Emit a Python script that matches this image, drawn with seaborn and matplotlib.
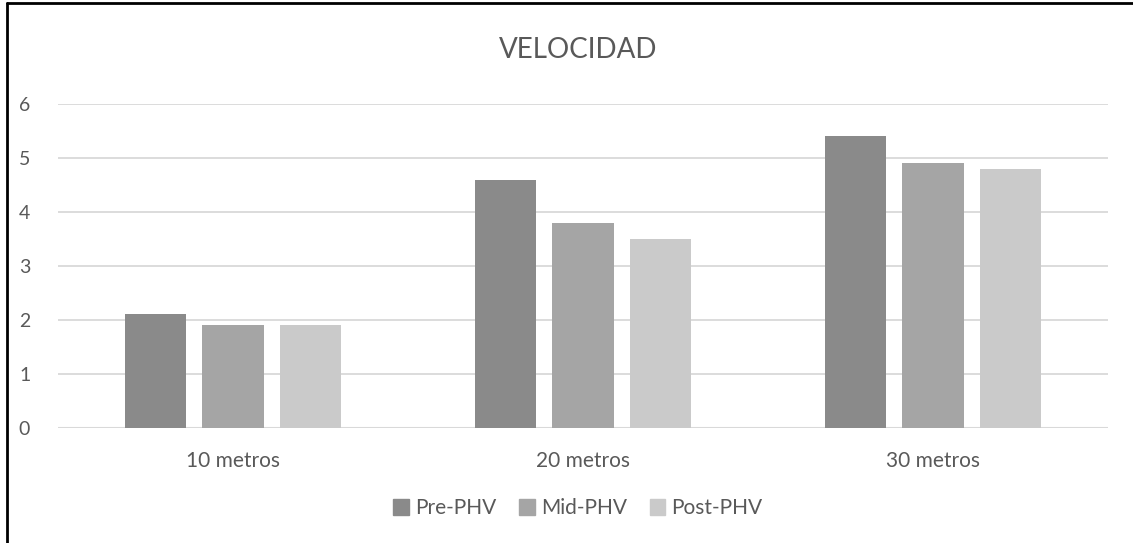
import matplotlib
matplotlib.use("Agg")
import matplotlib.pyplot as plt
import matplotlib.lines as mlines
import matplotlib.patches as mpatches
import pandas as pd
import seaborn as sns

# Data
distancias = ["10 metros", "20 metros", "30 metros"]
grupos = ["Pre-PHV", "Mid-PHV", "Post-PHV"]
pre_phv = [2.1, 4.6, 5.4]
mid_phv = [1.9, 3.8, 4.9]
post_phv = [1.9, 3.5, 4.8]
colores = ["#8a8a8a", "#a5a5a5", "#cacaca"]
y_ticks = [0, 1, 2, 3, 4, 5, 6]

df = pd.DataFrame({
    "Distancia": distancias * 3,
    "Velocidad": pre_phv + mid_phv + post_phv,
    "Grupo": [g for g in grupos for _ in distancias],
})

sns.set_style("white")
plt.rcParams["font.family"] = ["Lato", "DejaVu Sans"]
texto = "#595959"

fig = plt.figure(figsize=(11.33, 5.43), dpi=100)
ax = fig.add_axes([0.0512, 0.2123, 0.9268, 0.5962])

sns.barplot(data=df, x="Distancia", y="Velocidad", hue="Grupo",
            palette=colores, width=0.664, gap=0.21, linewidth=0,
            errorbar=None, ax=ax, zorder=3)

ax.set_ylim(0, 6)
ax.set_yticks(y_ticks)
ax.yaxis.grid(True, color="#d9d9d9", linewidth=1.3, zorder=0)
ax.set_axisbelow(True)
for s in ax.spines.values():
    s.set_visible(False)
ax.axhline(0, color="#d9d9d9", linewidth=1.5, zorder=2)
ax.tick_params(axis="both", length=0, colors=texto)
ax.tick_params(axis="y", pad=20, labelsize=14)
ax.tick_params(axis="x", pad=17, labelsize=15)
ax.set_xlabel("")
ax.set_ylabel("")

ax.get_legend().remove()
handles = [mpatches.Patch(color=c, label=g) for c, g in zip(colores, grupos)]
fig.legend(handles=handles, loc="center", bbox_to_anchor=(0.51, 0.064),
           ncol=3, frameon=False, fontsize=15, labelcolor=texto,
           handlelength=0.75, handleheight=0.75, handletextpad=0.3,
           columnspacing=1.1)

fig.text(0.51, 0.908, "VELOCIDAD", ha="center", va="center",
         fontsize=20, color=texto)

# Outer frame (left and top edges visible in the reference)
fig.add_artist(mlines.Line2D([0.0062, 0.0062], [0, 0.995], color="black",
                             linewidth=2, transform=fig.transFigure))
fig.add_artist(mlines.Line2D([0.0062, 1.0], [0.995, 0.995], color="black",
                             linewidth=2, transform=fig.transFigure))

fig.savefig("out.png", dpi=100)
